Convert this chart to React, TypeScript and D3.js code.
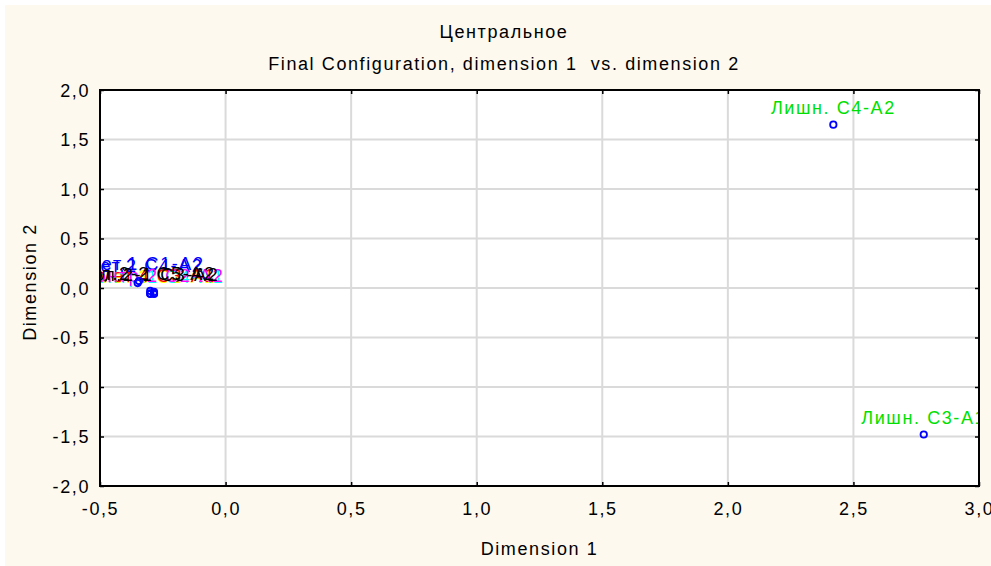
import * as d3 from "d3";
import { useEffect, useRef } from "react";

// MDS final configuration (Центральное)
const pointLabels = [
  "Смет.2 C4-A2",
  "Смет.1 C1-A2",
  "Смет.3 C2-A1",
  "Смет.4 C3-A1",
  "Контр.1 C4-A1",
  "Контр.2 C2-A2",
  "Ол.2-1 C3-A2",
  "Ол.2-2 C5-A2",
  "Лишн. C4-A2",
  "Лишн. C3-A1",
];
const dim1 = [-0.35, -0.345, -0.30, -0.30, -0.285, -0.285, -0.285, -0.30, 2.42, 2.78];
const dim2 = [0.05, 0.07, -0.06, -0.055, -0.06, -0.055, -0.04, -0.03, 1.65, -1.48];
const labelColors = [
  "#0000ff", "#0000ff", "#ffff00", "#ff0000", "#00ffff",
  "#ff00ff", "#000000", "#000000", "#00e000", "#00e000",
];
const xTicks = [-0.5, 0, 0.5, 1, 1.5, 2, 2.5, 3];
const yTicks = [-2, -1.5, -1, -0.5, 0, 0.5, 1, 1.5, 2];

const W = 991;
const H = 566;
const FONT = "'Liberation Sans', Arial, sans-serif";

const App = () => {
  const ref = useRef<SVGSVGElement | null>(null);

  useEffect(() => {
    const svg = d3.select(ref.current);
    svg.selectAll("*").remove();

    const margin = { top: 90, right: 12, bottom: 80, left: 100 };
    const width = 879;
    const height = 396;

    const xScale = d3.scaleLinear().domain([-0.5, 3.0]).range([0, width]);
    const yScale = d3.scaleLinear().domain([-2.0, 2.0]).range([height, 0]);
    const fmt = (v: number) => d3.format(".1f")(v).replace(".", ",").replace("−", "-");

    // background panel
    svg.append("rect").attr("width", W).attr("height", H).attr("fill", "#ffffff");
    svg.append("rect").attr("x", 5).attr("y", 5).attr("width", W).attr("height", H).attr("fill", "#fdf9ef");

    // titles
    svg.append("text")
      .attr("x", 504).attr("y", 38)
      .attr("text-anchor", "middle")
      .text("Центральное");
    svg.append("text")
      .attr("x", 504).attr("y", 70)
      .attr("text-anchor", "middle")
      .style("white-space", "pre")
      .text("Final Configuration, dimension 1  vs. dimension 2");

    const g = svg.append("g").attr("transform", `translate(${margin.left},${margin.top})`);

    g.append("rect").attr("width", width).attr("height", height).attr("fill", "#ffffff");

    // grid
    g.append("g")
      .selectAll("line")
      .data(xTicks.slice(1, -1))
      .join("line")
      .attr("x1", (d) => xScale(d)).attr("x2", (d) => xScale(d))
      .attr("y1", 0).attr("y2", height)
      .attr("stroke", "#dadada").attr("stroke-width", 2);
    g.append("g")
      .selectAll("line")
      .data(yTicks.slice(1, -1))
      .join("line")
      .attr("y1", (d) => yScale(d)).attr("y2", (d) => yScale(d))
      .attr("x1", 0).attr("x2", width)
      .attr("stroke", "#dadada").attr("stroke-width", 2);

    // axes: ticks pointing inward
    const xAxis = g.append("g").attr("transform", `translate(0,${height})`)
      .call(d3.axisBottom(xScale).tickValues(xTicks).tickSizeInner(-4).tickSizeOuter(0).tickFormat(fmt as any));
    xAxis.select(".domain").remove();
    xAxis.selectAll("line").attr("stroke", "#000").attr("stroke-width", 1.5);
    xAxis.selectAll("text").attr("y", 29).attr("dy", null);

    const xTop = g.append("g")
      .call(d3.axisTop(xScale).tickValues(xTicks).tickSizeInner(-4).tickSizeOuter(0).tickFormat(() => ""));
    xTop.select(".domain").remove();
    xTop.selectAll("line").attr("stroke", "#000").attr("stroke-width", 1.5);

    const yAxis = g.append("g")
      .call(d3.axisLeft(yScale).tickValues(yTicks).tickSizeInner(-4).tickSizeOuter(0).tickFormat(fmt as any));
    yAxis.select(".domain").remove();
    yAxis.selectAll("line").attr("stroke", "#000").attr("stroke-width", 1.5);
    yAxis.selectAll("text").attr("x", -10).attr("dy", "0.36em");

    const yRight = g.append("g").attr("transform", `translate(${width},0)`)
      .call(d3.axisRight(yScale).tickValues(yTicks).tickSizeInner(-4).tickSizeOuter(0).tickFormat(() => ""));
    yRight.select(".domain").remove();
    yRight.selectAll("line").attr("stroke", "#000").attr("stroke-width", 1.5);

    g.selectAll(".tick text")
      .attr("fill", "#000")
      .style("font-family", FONT)
      .style("font-size", "18px")
      .style("letter-spacing", "1.6px");

    // points + labels, clipped to plot area
    svg.append("defs").append("clipPath").attr("id", "plotClip")
      .append("rect").attr("width", width).attr("height", height);

    const dataset = d3.range(pointLabels.length).map((i) => ({
      x: dim1[i], y: dim2[i], label: pointLabels[i], color: labelColors[i],
    }));

    const pts = g.append("g").attr("clip-path", "url(#plotClip)");
    pts.selectAll("text")
      .data(dataset)
      .join("text")
      .attr("x", (d) => xScale(d.x))
      .attr("y", (d) => yScale(d.y) - 11)
      .attr("text-anchor", "middle")
      .attr("fill", (d) => d.color)
      .text((d) => d.label);
    pts.selectAll("circle")
      .data(dataset)
      .join("circle")
      .attr("cx", (d) => xScale(d.x))
      .attr("cy", (d) => yScale(d.y))
      .attr("r", 3.2)
      .attr("fill", "none")
      .attr("stroke", "#0000ff")
      .attr("stroke-width", 1.8);

    // frame
    g.append("rect").attr("width", width).attr("height", height)
      .attr("fill", "none").attr("stroke", "#000").attr("stroke-width", 2);

    // axis titles
    svg.append("text")
      .attr("x", margin.left + width / 2).attr("y", 555)
      .attr("text-anchor", "middle")
      .text("Dimension 1");
    svg.append("text")
      .attr("transform", "translate(36,282)rotate(-90)")
      .attr("text-anchor", "middle")
      .text("Dimension 2");

    svg.selectAll("text:not(.tick text)")
      .style("font-family", FONT)
      .style("font-size", "18px")
      .style("letter-spacing", "1.6px");
  }, []);

  return (
    <div style={{ position: "absolute", left: 0, top: 0 }}>
      <svg ref={ref} width={W} height={H} />
    </div>
  );
};

export default App;
